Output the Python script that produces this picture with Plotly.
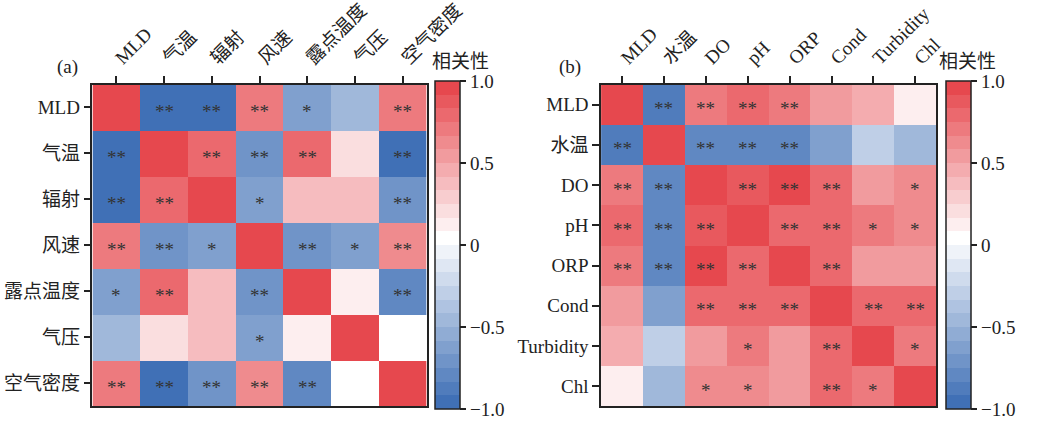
import plotly.graph_objects as go

# ---------------- data ----------------
labels_a = ["MLD", "气温", "辐射", "风速", "露点温度", "气压", "空气密度"]
corr_a = [
    [1.00, -0.95, -0.93, 0.68, -0.60, -0.42, 0.70],
    [-0.95, 1.00, 0.78, -0.72, 0.78, 0.22, -0.94],
    [-0.93, 0.78, 1.00, -0.60, 0.40, 0.40, -0.72],
    [0.68, -0.72, -0.60, 1.00, -0.72, -0.60, 0.63],
    [-0.60, 0.78, 0.40, -0.72, 1.00, 0.10, -0.79],
    [-0.42, 0.22, 0.40, -0.60, 0.10, 1.00, 0.03],
    [0.70, -0.94, -0.72, 0.63, -0.79, 0.03, 1.00],
]
sig_a = [
    ["", "**", "**", "**", "*", "", "**"],
    ["**", "", "**", "**", "**", "", "**"],
    ["**", "**", "", "*", "", "", "**"],
    ["**", "**", "*", "", "**", "*", "**"],
    ["*", "**", "", "**", "", "", "**"],
    ["", "", "", "*", "", "", ""],
    ["**", "**", "**", "**", "**", "", ""],
]

labels_b = ["MLD", "水温", "DO", "pH", "ORP", "Cond", "Turbidity", "Chl"]
corr_b = [
    [1.00, -0.86, 0.67, 0.75, 0.74, 0.50, 0.42, 0.10],
    [-0.86, 1.00, -0.80, -0.80, -0.80, -0.60, -0.33, -0.42],
    [0.67, -0.80, 1.00, 0.86, 0.92, 0.76, 0.57, 0.64],
    [0.75, -0.80, 0.86, 1.00, 0.77, 0.75, 0.68, 0.66],
    [0.74, -0.80, 0.92, 0.77, 1.00, 0.76, 0.57, 0.52],
    [0.50, -0.60, 0.76, 0.75, 0.76, 1.00, 0.75, 0.77],
    [0.42, -0.33, 0.57, 0.68, 0.57, 0.75, 1.00, 0.69],
    [0.10, -0.42, 0.64, 0.66, 0.52, 0.77, 0.69, 1.00],
]
sig_b = [
    ["", "**", "**", "**", "**", "", "", ""],
    ["**", "", "**", "**", "**", "", "", ""],
    ["**", "**", "", "**", "**", "**", "", "*"],
    ["**", "**", "**", "", "**", "**", "*", "*"],
    ["**", "**", "**", "**", "", "**", "", ""],
    ["", "", "**", "**", "**", "", "**", "**"],
    ["", "", "", "*", "", "**", "", "*"],
    ["", "", "*", "*", "", "**", "*", ""],
]

cbar_tickvals = [0.9999, 0.5, 0.0, -0.5, -0.9999]
cbar_ticktext = ["1.0", "0.5", "0", "−0.5", "−1.0"]

# ---------------- styling ----------------
W, H = 1061, 421
FONT = "Liberation Serif, 'Noto Sans CJK SC', serif"
RED = (230, 72, 78)
BLUE = (64, 112, 182)


def mix(c, t):
    return "rgb(%d,%d,%d)" % tuple(round(255 + (ci - 255) * t) for ci in c)


# 24 discrete bands: 12 blue, white, 11 red
band_colors = []
for i in range(24):
    if i < 12:
        band_colors.append(mix(BLUE, (12 - i) / 12))
    else:
        band_colors.append(mix(RED, (i - 12) / 11))
colorscale = []
for i, c in enumerate(band_colors):
    colorscale.append([i / 24, c])
    colorscale.append([(i + 1) / 24, c])

y0_px, y1_px = 78, 406
ydom = [(H - y1_px) / H, (H - y0_px) / H]
xdom_a = [96 / W, 443 / W]
xdom_b = [624 / W, 972 / W]


def cbar(xpx):
    return dict(
        x=xpx / W, xanchor="left", xpad=0,
        y=sum(ydom) / 2, yanchor="middle", ypad=0,
        len=y1_px - y0_px, lenmode="pixels",
        thickness=25, thicknessmode="pixels",
        outlinewidth=1.5, outlinecolor="#222",
        tickvals=cbar_tickvals, ticktext=cbar_ticktext,
        ticks="outside", ticklen=6, tickwidth=1.5, tickcolor="#222",
        ticklabeloverflow="allow",
        tickfont=dict(family=FONT, size=19, color="#222"),
    )


fig = go.Figure()
fig.add_trace(go.Heatmap(
    z=corr_a, x=labels_a, y=labels_a, zmin=-1, zmax=1,
    colorscale=colorscale, colorbar=cbar(452),
    xaxis="x", yaxis="y", hoverinfo="skip",
))
fig.add_trace(go.Heatmap(
    z=corr_b, x=labels_b, y=labels_b, zmin=-1, zmax=1,
    colorscale=colorscale, colorbar=cbar(982),
    xaxis="x2", yaxis="y2", hoverinfo="skip",
))

annotations = []
for labels, sig, xr, yr in [(labels_a, sig_a, "x", "y"), (labels_b, sig_b, "x2", "y2")]:
    for r, row in enumerate(sig):
        for c, s in enumerate(row):
            if s:
                annotations.append(dict(
                    x=labels[c], y=labels[r], xref=xr, yref=yr,
                    text=s, showarrow=False,
                    font=dict(family=FONT, size=19, color="#333"), yshift=-4,
                ))


def ptext(xpx, ypx, text, xanchor="center"):
    return dict(x=xpx / W, y=(H - ypx) / H, xref="paper", yref="paper", text=text,
                xanchor=xanchor, yanchor="middle", showarrow=False,
                font=dict(family=FONT, size=19, color="#222"))


annotations += [
    ptext(70, 60, "(a)"),
    ptext(592, 60, "(b)"),
    ptext(446, 55, "相关性", "left"),
    ptext(973, 55, "相关性", "left"),
]

axis_common = dict(
    showline=True, linecolor="#222", linewidth=1.5, mirror=True,
    ticks="outside", ticklen=7, tickwidth=1.5, tickcolor="#222",
    tickfont=dict(family=FONT, size=19, color="#222"),
    showgrid=False, zeroline=False,
)

fig.update_layout(
    width=W, height=H,
    margin=dict(l=0, r=0, t=0, b=0),
    paper_bgcolor="white", plot_bgcolor="white",
    xaxis=dict(domain=xdom_a, anchor="y", side="top", tickangle=-45, **axis_common),
    yaxis=dict(domain=ydom, anchor="x", autorange="reversed", **axis_common),
    xaxis2=dict(domain=xdom_b, anchor="y2", side="top", tickangle=-45, **axis_common),
    yaxis2=dict(domain=ydom, anchor="x2", autorange="reversed", **axis_common),
    annotations=annotations,
    showlegend=False,
)

fig.write_html("out.html")
